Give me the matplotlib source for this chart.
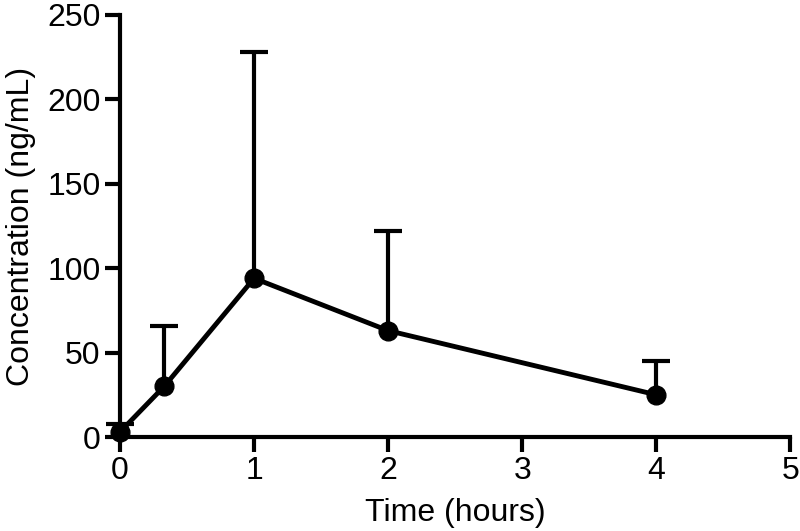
import matplotlib
matplotlib.use("Agg")
import matplotlib.pyplot as plt

plt.rcParams['font.family'] = ['Liberation Sans', 'DejaVu Sans']

time_h = [0, 0.33, 1, 2, 4]
conc = [3, 30, 94, 63, 25]
sd_upper = [5, 36, 134, 59, 20]

fig = plt.figure(figsize=(8, 5.31), dpi=100)
ax = fig.add_axes([0.15, 0.177, 0.838, 0.795])

line, caps, bars = ax.errorbar(time_h, conc, yerr=[[0]*len(sd_upper), sd_upper], color='black',
            linewidth=3.5, marker='o', markersize=13.5, elinewidth=3,
            capsize=10, capthick=3, clip_on=False, zorder=3)
caps[0].set_visible(False)

ax.set_xlim(0, 5)
ax.set_ylim(0, 250)
ax.set_xticks([0, 1, 2, 3, 4, 5])
ax.set_yticks([0, 50, 100, 150, 200, 250])
for s in ['top', 'right']:
    ax.spines[s].set_visible(False)
for s in ['left', 'bottom']:
    ax.spines[s].set_linewidth(3)
ax.tick_params(width=3, length=11, labelsize=23, direction='out', pad=3)
ax.set_xlabel('Time (hours)', fontsize=23, labelpad=8)
ax.set_ylabel('Concentration (ng/mL)', fontsize=23, labelpad=8)

fig.savefig('out.png', dpi=100)
